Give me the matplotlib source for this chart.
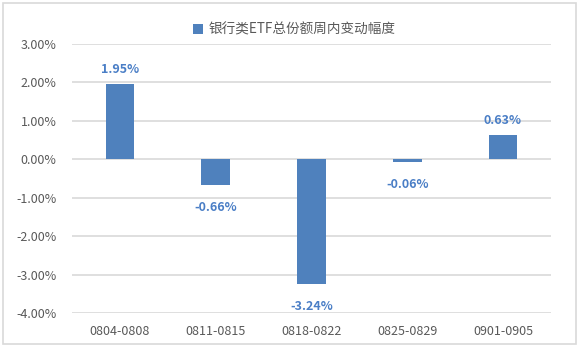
import matplotlib
matplotlib.use("Agg")
import matplotlib.pyplot as plt
from matplotlib.patches import Rectangle
from matplotlib.ticker import FuncFormatter

plt.rcParams['font.family'] = ['Noto Sans CJK SC', 'DejaVu Sans']

weeks = ['0804-0808', '0811-0815', '0818-0822', '0825-0829', '0901-0905']
changes = [1.95, -0.66, -3.24, -0.06, 0.63]  # %
series_name = '银行类ETF总份额周内变动幅度'

bar_color = '#4F81BD'
label_color = '#4A7EC6'
tick_color = '#595959'

fig = plt.figure(figsize=(5.79, 3.48), dpi=100)
ax = fig.add_axes([0.1244, 0.1006, 0.827, 0.773])

bars = ax.bar(weeks, changes, width=0.3, color=bar_color, label=series_name, zorder=3)

ax.set_ylim(-4, 3)
ax.set_yticks(range(-4, 4))
ax.yaxis.set_major_formatter(FuncFormatter(lambda v, p: f'{v:.2f}%'))
ax.set_xlim(-0.5, len(weeks) - 0.5)
ax.grid(axis='y', color='#D9D9D9', linewidth=1.2, zorder=0)
for s in ax.spines.values():
    s.set_visible(False)
ax.tick_params(length=0, labelsize=9, colors=tick_color)
ax.tick_params(axis='y', pad=11)
ax.tick_params(axis='x', pad=9)

for b, v in zip(bars, changes):
    x = b.get_x() + b.get_width() / 2
    if v >= 0:
        ax.annotate(f'{v:.2f}%', (x, v), xytext=(0, 6), textcoords='offset points',
                    ha='center', va='bottom', fontsize=9, color=label_color, fontweight='bold')
    else:
        ax.annotate(f'{v:.2f}%', (x, v), xytext=(0, -12), textcoords='offset points',
                    ha='center', va='top', fontsize=9, color=label_color, fontweight='bold')

fig.legend(loc='center', bbox_to_anchor=(0.508, 0.915), frameon=False, fontsize=9.8,
           handlelength=0.7, handleheight=0.7, handletextpad=0.4, labelcolor=tick_color)

fig.patches.append(Rectangle((0.006, 0.012), 0.988, 0.98, transform=fig.transFigure,
                             fill=False, edgecolor='#D9D9D9', linewidth=1.2))

fig.savefig('out.png', dpi=100)
plt.close(fig)
